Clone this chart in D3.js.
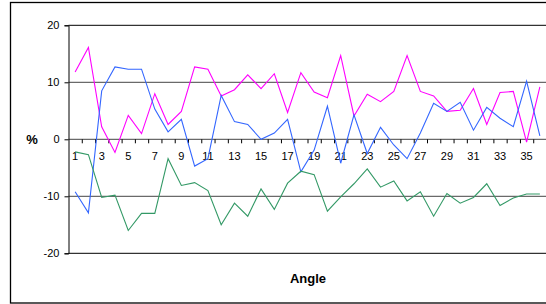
<!DOCTYPE html>
<html>
<head>
<meta charset="utf-8">
<script src="https://cdn.jsdelivr.net/npm/d3@7"></script>
<style>
  body { margin: 0; background: #fff; }
  svg { display: block; }
  text { font-family: Arial, "Liberation Sans", sans-serif; }
</style>
</head>
<body>
<div id="chart"></div>
<script>
// categories (angle index) and the three series, in %
const angles = d3.range(1, 37);
const magenta = [11.8, 16.1, 2.2, -2.3, 4.2, 1.0, 8.0, 2.6, 4.9, 12.7, 12.3, 7.6, 8.7, 11.3, 8.9, 11.5, 4.7, 11.7,
  8.3, 7.3, 14.7, 4.1, 7.9, 6.6, 8.4, 14.7, 8.4, 7.6, 4.9, 5.1, 8.9, 2.6, 8.2, 8.4, -0.5, 9.2];
const blue = [-9.2, -12.9, 8.5, 12.7, 12.3, 12.3, 5.3, 1.3, 3.5, -4.7, -3.4, 7.7, 3.1, 2.6, 0, 1.1, 3.5, -5.7,
  -1.9, 5.8, -4.2, 4.3, -2.5, 2.1, -1.0, -3.4, 1.1, 6.3, 4.9, 6.5, 1.6, 5.6, 3.7, 2.2, 10.2, 0.6];
const green = [-2.2, -2.7, -10.2, -9.8, -16.0, -13.0, -13.0, -3.4, -8.1, -7.6, -9.0, -15.0, -11.2, -13.5, -8.7, -12.3, -7.7, -5.6,
  -6.2, -12.6, -10.1, -7.8, -5.2, -8.4, -7.3, -10.8, -9.2, -13.5, -9.5, -11.2, -10.2, -7.8, -11.6, -10.3, -9.6, -9.6];
const yTicks = [-20, -10, 0, 10, 20];
const gridValues = [-10, 10];

const W = 546, H = 304;
const margin = {top: 25.3, left: 68.5, bottom: 304 - 253.3};
const plotRight = 546.5;

const svg = d3.select("#chart").append("svg")
  .attr("width", W).attr("height", H);

// outer frame (right side runs off the picture)
svg.append("rect")
  .attr("x", 10.5).attr("y", 2.5)
  .attr("width", 700).attr("height", 300.5)
  .attr("fill", "none").attr("stroke", "#000").attr("stroke-width", 1.3);

const x = d3.scaleBand().domain(angles).range([margin.left, plotRight]);
const xEdge = d3.scaleLinear().domain([0, angles.length]).range([margin.left, plotRight]);
const y = d3.scaleLinear().domain([-20, 20]).range([H - margin.bottom, margin.top]);

// horizontal lines
svg.append("g").selectAll("line")
  .data(gridValues.concat([0]))
  .join("line")
  .attr("x1", margin.left).attr("x2", W)
  .attr("y1", d => y(d)).attr("y2", d => y(d))
  .attr("stroke", "#6a6a6a").attr("stroke-width", 1.2);

svg.append("g").selectAll("line")
  .data([20, -20])
  .join("line")
  .attr("x1", margin.left).attr("x2", W)
  .attr("y1", d => y(d)).attr("y2", d => y(d))
  .attr("stroke", "#000").attr("stroke-width", 1);

// y axis (plain hyphen for negatives, like the original)
const yAxis = svg.append("g")
  .attr("transform", "translate(" + margin.left + ",0)")
  .call(d3.axisLeft(y).tickValues(yTicks).tickSize(4).tickPadding(5).tickFormat(d => String(d)));
yAxis.select(".domain").attr("stroke", "#000");
yAxis.selectAll("text").attr("font-size", 11).attr("fill", "#000").style("font-family", "Arial, 'Liberation Sans', sans-serif");

// category tick marks (between categories) on the zero line
const xTicks = svg.append("g")
  .attr("transform", "translate(0," + y(0) + ")")
  .call(d3.axisBottom(xEdge).tickValues(d3.range(1, angles.length + 1)).tickSize(4).tickFormat(""));
xTicks.select(".domain").remove();
xTicks.selectAll("line").attr("stroke", "#000");

// category labels, odd ones only
const xLabels = svg.append("g")
  .attr("transform", "translate(0," + y(0) + ")")
  .call(d3.axisBottom(x).tickSize(0).tickPadding(13).tickFormat(d => d % 2 ? d : ""));
xLabels.select(".domain").remove();
xLabels.selectAll("text").attr("font-size", 11).attr("fill", "#000").style("font-family", "Arial, 'Liberation Sans', sans-serif");

// series lines
const line = d3.line()
  .x((d, i) => x(angles[i]) + x.bandwidth() / 2)
  .y(d => y(d));

[[magenta, "#ff00ff"], [blue, "#3366ff"], [green, "#339966"]].forEach(([vals, col]) => {
  svg.append("path")
    .datum(vals)
    .attr("d", line)
    .attr("fill", "none")
    .attr("stroke", col)
    .attr("stroke-width", 1.1);
});

// axis titles
svg.append("text")
  .attr("x", 32).attr("y", y(0) + 5)
  .attr("text-anchor", "middle")
  .attr("font-size", 13).attr("font-weight", "bold")
  .text("%");

svg.append("text")
  .attr("x", 308).attr("y", 283)
  .attr("text-anchor", "middle")
  .attr("font-size", 13).attr("font-weight", "bold")
  .text("Angle");
</script>
</body>
</html>
